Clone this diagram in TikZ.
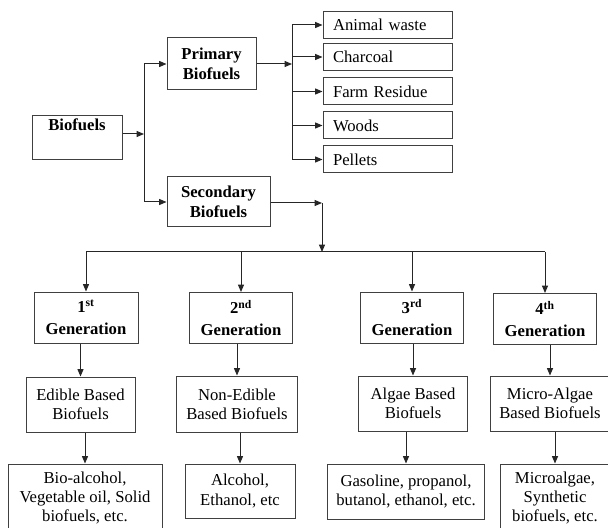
\documentclass[tikz,border=0pt]{standalone}
\usepackage{fontspec}
\setmainfont{Liberation Serif}
\usetikzlibrary{arrows.meta}
\tikzset{
  box/.style={draw=black!75, line width=0.75pt, align=center, inner sep=2pt, font=\fontsize{12.5}{14.5}\selectfont},
  bbox/.style={box, font=\fontsize{12.5}{15}\selectfont\bfseries},
  item/.style={draw=black!75, line width=0.75pt, align=left, text width=81.75pt, inner xsep=7.5pt, inner ysep=0pt, minimum height=20.25pt, font=\fontsize{12.5}{15}\selectfont},
  arr/.style={-{Triangle[length=5.5pt,width=4.5pt]}, line width=0.75pt, black!85},
}
\begin{document}
\begin{tikzpicture}[x=0.75pt, y=-0.75pt]
\useasboundingbox (0,0) rectangle (608,528);
\clip (0,0) rectangle (608,528);

\node[bbox, minimum width=67.5pt, minimum height=32.25pt] (bio) at (77,137.5) {Biofuels\\\strut};
\node[bbox, minimum width=66.75pt, minimum height=39pt] (prim) at (211.5,64) {Primary\\Biofuels};
\node[bbox, minimum width=77.25pt, minimum height=37.5pt] (sec) at (218.5,202) {Secondary\\Biofuels};

\node[item] (aw) at (387.5,25) {Animal waste};
\node[item] (ch) at (387.5,57) {Charcoal};
\node[item] (fr) at (387.5,91.5) {Farm Residue};
\node[item] (wd) at (387.5,125.5) {Woods};
\node[item] (pl) at (387.5,159.5) {Pellets};

\node[bbox, minimum width=78pt, minimum height=38.25pt] (g1) at (86,317.5) {1\textsuperscript{st}\\[1.5pt]Generation};
\node[bbox, minimum width=77.25pt, minimum height=38.25pt] (g2) at (241,318) {2\textsuperscript{nd}\\[1.5pt]Generation};
\node[bbox, minimum width=77.25pt, minimum height=38.25pt] (g3) at (412,317.5) {3\textsuperscript{rd}\\[1.5pt]Generation};
\node[bbox, minimum width=77.25pt, minimum height=38.25pt] (g4) at (545,319) {4\textsuperscript{th}\\[1.5pt]Generation};

\node[box, minimum width=81.75pt, minimum height=41.25pt] (m1) at (80.5,404.5) {Edible Based\\Biofuels};
\node[box, minimum width=90.75pt, minimum height=42pt] (m2) at (237,404) {Non-Edible\\Based Biofuels};
\node[box, minimum width=81.75pt, minimum height=41.25pt] (m3) at (413,403.5) {Algae Based\\Biofuels};
\node[box, minimum width=90pt, minimum height=41.25pt] (m4) at (550,403.5) {Micro-Algae\\Based Biofuels};

\node[box, minimum width=115.5pt, minimum height=51pt] (b1) at (85,498) {Bio-alcohol,\\Vegetable oil, Solid\\biofuels, etc.};
\node[box, minimum width=82.5pt, minimum height=40.5pt] (b2) at (240,491) {Alcohol,\\Ethanol, etc};
\node[box, minimum width=117.75pt, minimum height=41.25pt] (b3) at (406,491.5) {Gasoline, propanol,\\butanol, ethanol, etc.};
\node[box, minimum width=82.5pt, minimum height=51pt] (b4) at (555,498) {Microalgae,\\Synthetic\\biofuels, etc.};

\coordinate (split) at (144,134);
\coordinate (pbranch) at (292,64);
\coordinate (sbend) at (322,203);
\coordinate (bus) at (322,252);

\draw[arr] (bio.east |- split) -- (split);
\draw[arr] (split) |- (prim);
\draw[arr] (split) |- (sec);

\draw[arr] (prim) -- (pbranch);
\foreach \n in {aw,ch,fr,wd,pl}
  \draw[arr] (pbranch) |- (\n.west);

\draw[arr] (sec.east |- sbend) -- (sbend);
\draw[arr] (sbend) -- (bus);
\draw[line width=0.75pt, black!85] (bus -| g1) -- (bus -| g4);
\foreach \n in {g1,g2,g3,g4}
  \draw[arr] (bus -| \n) -- (\n.north);

\draw[arr] (g1.south -| m1) -- (m1.north);
\draw[arr] (g2.south -| m2) -- (m2.north);
\draw[arr] (g3.south -| m3) -- (m3.north);
\draw[arr] (g4.south -| m4) -- (m4.north);

\draw[arr] (m1.south -| b1) -- (b1.north);
\draw[arr] (m2.south -| b2) -- (b2.north);
\draw[arr] (m3.south -| b3) -- (b3.north);
\draw[arr] (m4.south -| b4) -- (b4.north);
\end{tikzpicture}
\end{document}
